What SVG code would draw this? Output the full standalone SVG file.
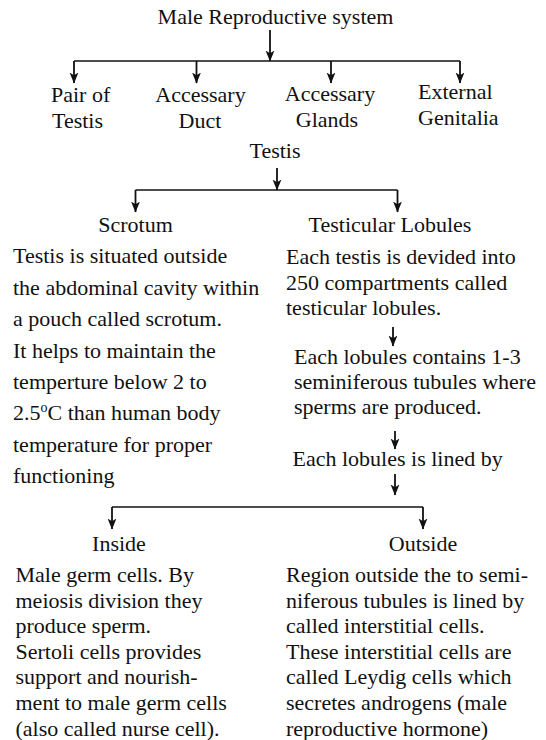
<svg xmlns="http://www.w3.org/2000/svg" width="546" height="740" viewBox="0 0 546 740">
<defs>
<style>
.t{font-family:'Liberation Serif',serif;font-size:22px;fill:#111;}
.c{text-anchor:middle;}
.ln{stroke:#111;stroke-width:1.6;fill:none;}
.ar{stroke:#111;stroke-width:1.8;fill:none;marker-end:url(#ah);}
</style>
<marker id="ah" viewBox="0 0 10 10" refX="9.5" refY="5" markerWidth="11" markerHeight="11" orient="auto" markerUnits="userSpaceOnUse">
<path d="M0,1 L10,5 L0,9 L2.5,5 z" fill="#111"/>
</marker>
</defs>
<rect width="546" height="740" fill="#fff"/>

<g id="connectors">
<line class="ar" x1="270" y1="30" x2="270" y2="61"/>
<line class="ln" x1="74" y1="61" x2="460" y2="61"/>
<line class="ar" x1="74" y1="61" x2="74" y2="83"/>
<line class="ar" x1="196.5" y1="61" x2="196.5" y2="83"/>
<line class="ar" x1="331" y1="61" x2="331" y2="83"/>
<line class="ar" x1="460" y1="61" x2="460" y2="83"/>

<line class="ar" x1="277" y1="168" x2="277" y2="190"/>
<line class="ln" x1="135.5" y1="190" x2="397.5" y2="190"/>
<line class="ar" x1="135.5" y1="190" x2="135.5" y2="212"/>
<line class="ar" x1="397.5" y1="190" x2="397.5" y2="212"/>

<line class="ar" x1="393" y1="327" x2="393" y2="346"/>
<line class="ar" x1="395" y1="431" x2="395" y2="449"/>
<line class="ar" x1="395" y1="474" x2="395" y2="495"/>

<line class="ln" x1="112" y1="507" x2="423" y2="507"/>
<line class="ar" x1="112" y1="507" x2="112" y2="529"/>
<line class="ar" x1="423" y1="507" x2="423" y2="529"/>
</g>

<g class="t" font-family="Liberation Serif, serif" font-size="22">
<g id="male-reproductive-system">
<text class="c" x="275.5" y="23.5">Male Reproductive system</text>
</g>
<g id="pair-of-testis">
<text x="51" y="102">Pair of</text>
<text x="52" y="127.5">Testis</text>
</g>
<g id="accessary-duct">
<text class="c" x="200.5" y="102">Accessary</text>
<text class="c" x="200" y="127.5">Duct</text>
</g>
<g id="accessary-glands">
<text class="c" x="330" y="101">Accessary</text>
<text class="c" x="327" y="126.5">Glands</text>
</g>
<g id="external-genitalia">
<text x="418" y="99">External</text>
<text x="418" y="124.5">Genitalia</text>
</g>
<g id="testis">
<text class="c" x="275" y="158">Testis</text>
</g>
<g id="scrotum">
<text class="c" x="135.5" y="232">Scrotum</text>
<text x="13" y="263.3">Testis is situated outside</text>
<text x="13" y="294.7">the abdominal cavity within</text>
<text x="13" y="326.1">a pouch called scrotum.</text>
<text x="13" y="357.5">It helps to maintain the</text>
<text x="13" y="388.9">temperture below 2 to</text>
<text x="13" y="420.3">2.5<tspan dy="-8" font-size="14">o</tspan><tspan dy="8">C than human body</tspan></text>
<text x="13" y="451.7">temperature for proper</text>
<text x="13" y="483.1">functioning</text>
</g>
<g id="testicular-lobules">
<text class="c" x="390" y="232">Testicular Lobules</text>
<text x="286" y="263.5">Each testis is devided into</text>
<text x="286" y="289.5">250 compartments called</text>
<text x="286" y="315">testicular lobules.</text>
</g>
<g id="lobule-contents">
<text x="294" y="364">Each lobules contains 1-3</text>
<text x="294" y="389">seminiferous tubules where</text>
<text x="294" y="413.5">sperms are produced.</text>
</g>
<g id="lobule-lining">
<text x="292.5" y="466">Each lobules is lined by</text>
</g>
<g id="inside">
<text class="c" x="119" y="551">Inside</text>
<text x="15.5" y="582">Male germ cells. By</text>
<text x="15.5" y="607.6">meiosis division they</text>
<text x="15.5" y="633.2">produce sperm.</text>
<text x="15.5" y="658.8">Sertoli cells provides</text>
<text x="15.5" y="684.4">support and nourish-</text>
<text x="15.5" y="710">ment to male germ cells</text>
<text x="15.5" y="735.6">(also called nurse cell).</text>
</g>
<g id="outside">
<text class="c" x="423" y="551">Outside</text>
<text x="286" y="582">Region outside the to semi-</text>
<text x="286" y="607.6">niferous tubules is lined by</text>
<text x="286" y="633.2">called interstitial cells.</text>
<text x="286" y="658.8">These interstitial cells are</text>
<text x="286" y="684.4">called Leydig cells which</text>
<text x="286" y="710">secretes androgens (male</text>
<text x="286" y="735.6">reproductive hormone)</text>
</g>
</g>
</svg>
